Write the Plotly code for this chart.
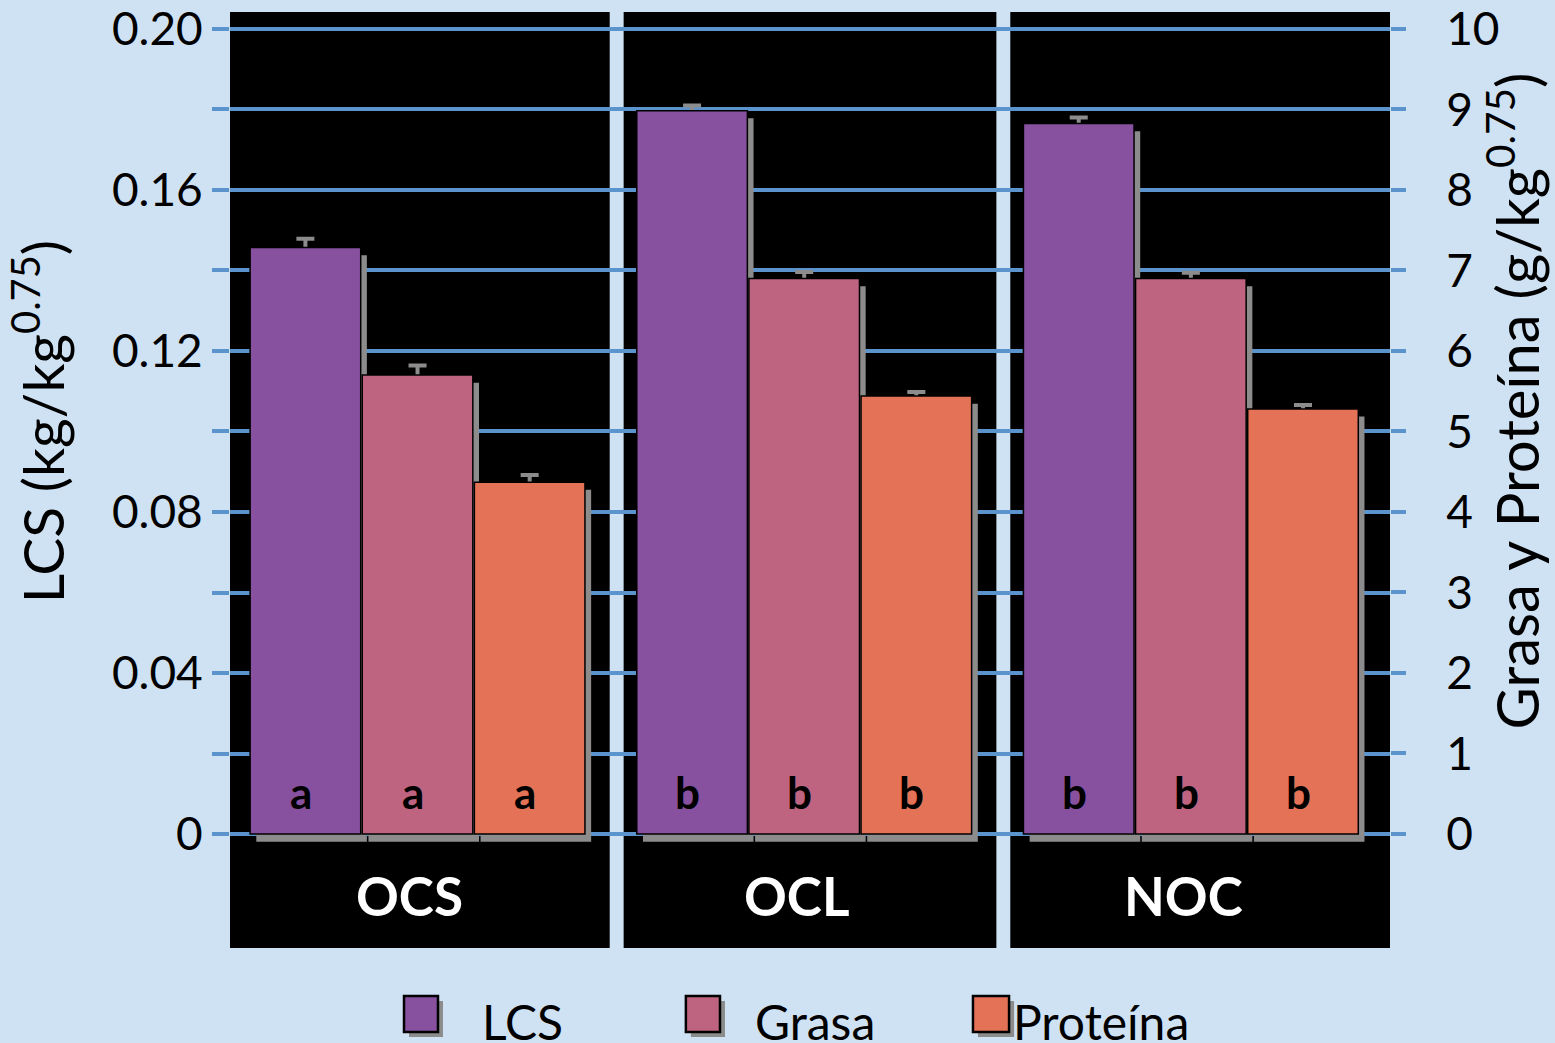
import plotly.graph_objects as go

# Treatment groups and measured means (with standard errors)
groups = ["OCS", "OCL", "NOC"]
series_names = ["LCS", "Grasa", "Proteína"]

lcs = [0.1457, 0.1797, 0.1765]          # kg/kg^0.75 (left axis)
lcs_err = [0.0022, 0.0013, 0.0015]
grasa = [5.70, 6.90, 6.90]              # g/kg^0.75 (right axis)
grasa_err = [0.12, 0.08, 0.07]
proteina = [4.37, 5.44, 5.28]           # g/kg^0.75 (right axis)
proteina_err = [0.09, 0.05, 0.05]

# Significance letters per group (same for the three variables)
letters = ["a", "b", "b"]

left_ticks = [0, 0.02, 0.04, 0.06, 0.08, 0.10, 0.12, 0.14, 0.16, 0.18, 0.20]
left_ticktext = ["0", "", "0.04", "", "0.08", "", "0.12", "", "0.16", "", "0.20"]
right_ticks = list(range(0, 11))

# Styling
BG = "#CFE2F3"
GRID = "#5B94CC"
SHADOW = "#8C8C8C"
colors = ["#87519F", "#BE6480", "#E47256"]
FONT = "Lato"

x = list(range(len(groups)))
bar_w = 0.286
offsets = [-0.448, -0.158, 0.132]
shadow_dx = 0.016
shadow_dy = {"y": -0.0019, "y2": -0.095}

values = [lcs, grasa, proteina]
errors = [lcs_err, grasa_err, proteina_err]
axes = ["y", "y2", "y2"]

fig = go.Figure()


def add_shadow(i):
    # grey drop shadow shifted right and down
    fig.add_trace(go.Bar(
        x=x, y=values[i], base=shadow_dy[axes[i]],
        width=bar_w, offset=offsets[i] + shadow_dx, yaxis=axes[i],
        marker=dict(color=SHADOW, line=dict(width=0)),
        showlegend=False, hoverinfo="skip",
    ))


def add_error(i):
    # transparent bar carrying the error bar; the coloured bar drawn later hides its lower half
    fig.add_trace(go.Bar(
        x=x, y=values[i], width=bar_w, offset=offsets[i], yaxis=axes[i],
        marker=dict(color="rgba(0,0,0,0)", line=dict(width=0)),
        error_y=dict(type="data", array=errors[i], symmetric=True,
                     color=SHADOW, thickness=4, width=9),
        showlegend=False, hoverinfo="skip",
    ))


def add_bar(i):
    fig.add_trace(go.Bar(
        x=x, y=values[i], name=series_names[i],
        width=bar_w, offset=offsets[i], yaxis=axes[i],
        marker=dict(color=colors[i], line=dict(color="black", width=1.5)),
        showlegend=False,
    ))


add_shadow(0)
add_error(0)
add_bar(0)
add_shadow(1)
add_shadow(2)
add_error(1)
add_error(2)
add_bar(1)
add_bar(2)

# Black panels behind each group
shapes = []
gap_half = 0.018
for i in x:
    x0 = i - 0.5 + (gap_half if i > 0 else 0)
    x1 = i + 0.5 - (gap_half if i < len(groups) - 1 else 0)
    shapes.append(dict(type="rect", xref="x", yref="paper", x0=x0, x1=x1,
                       y0=0, y1=1, fillcolor="black", line=dict(width=0),
                       layer="below"))

annotations = []
# Group labels inside the panels
for i, g in enumerate(groups):
    annotations.append(dict(x=i - 0.035, y=0.0566, xref="x", yref="paper", text=f"<b>{g}</b>",
                            showarrow=False, font=dict(family=FONT, size=53, color="white"),
                            xanchor="center", yanchor="middle"))
# Significance letters near bar bases
for s in range(3):
    for i in x:
        annotations.append(dict(x=i + offsets[s] + bar_w / 2 - 0.012, y=0.0104,
                                xref="x", yref="y", text=f"<b>{letters[i]}</b>",
                                showarrow=False, font=dict(family=FONT, size=44, color="black"),
                                xanchor="center", yanchor="middle"))

# Axis titles
annotations.append(dict(x=-0.1645, y=0.562, xref="paper", yref="paper",
                        text="LCS (kg/kg<sup>0.75</sup>)", textangle=-90, showarrow=False,
                        font=dict(family=FONT, size=57, color="black"),
                        xanchor="center", yanchor="middle"))
annotations.append(dict(x=1.106, y=0.585, xref="paper", yref="paper",
                        text="Grasa y Proteína (g/kg<sup>0.75</sup>)", textangle=-90,
                        showarrow=False, font=dict(family=FONT, size=58, color="black"),
                        xanchor="center", yanchor="middle"))

# Legend drawn in paper space
leg_sq = [(0.150, 0.1793), (0.393, 0.4224), (0.6405, 0.6716)]
leg_tx = [0.2155, 0.4509, 0.6733]
sq_y0, sq_y1 = -0.0897, -0.0513
dxp, dyp = 5 / 1160, 5 / 936
for k, name in enumerate(series_names):
    a, b = leg_sq[k]
    shapes.append(dict(type="rect", xref="paper", yref="paper", x0=a + dxp, x1=b + dxp,
                       y0=sq_y0 - dyp, y1=sq_y1 - dyp, fillcolor=SHADOW,
                       line=dict(width=0), layer="above"))
    shapes.append(dict(type="rect", xref="paper", yref="paper", x0=a, x1=b,
                       y0=sq_y0, y1=sq_y1, fillcolor=colors[k],
                       line=dict(color="black", width=2.5), layer="above"))
    annotations.append(dict(x=leg_tx[k], y=-0.078, xref="paper", yref="paper", text=name,
                            showarrow=False, font=dict(family=FONT, size=48, color="black"),
                            xanchor="left", yanchor="middle"))

fig.update_layout(
    width=1555, height=1043,
    margin=dict(l=230, r=165, t=12, b=95),
    paper_bgcolor=BG, plot_bgcolor=BG,
    barmode="overlay",
    showlegend=False,
    shapes=shapes,
    annotations=annotations,
    xaxis=dict(range=[-0.5, 2.5], showticklabels=False, showgrid=False,
               zeroline=False, showline=False, ticks="", automargin=False),
    yaxis=dict(range=[-0.0283, 0.2042], tickvals=left_ticks, ticktext=left_ticktext,
               ticks="outside", ticklen=17, tickwidth=4, tickcolor=GRID,
               showgrid=True, gridcolor=GRID, gridwidth=4, zeroline=False,
               showline=False, automargin=False,
               tickfont=dict(family=FONT, size=46, color="black")),
    yaxis2=dict(range=[-1.416, 10.21], tickvals=right_ticks, overlaying="y", side="right",
                ticks="outside", ticklen=15, tickwidth=4, tickcolor=GRID,
                showgrid=False, zeroline=False, showline=False, ticklabelstandoff=31,
                automargin=False,
                tickfont=dict(family=FONT, size=46, color="black")),
)

fig.write_html("out.html")
